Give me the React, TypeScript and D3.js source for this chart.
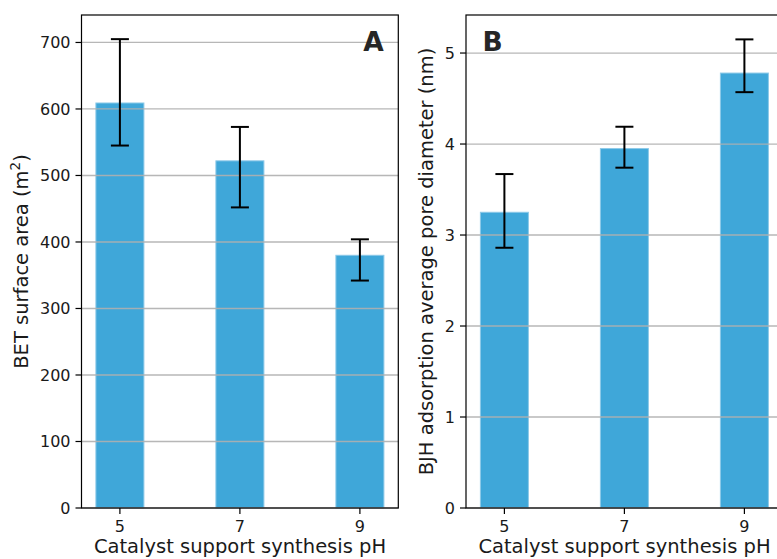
import * as d3 from "d3";

// synthesis pH categories
const phValues = [5, 7, 9];

// panel A: BET surface area (m²), asymmetric error bars
const betArea = [609, 522, 380];
const betUpper = [705, 573, 404];
const betLower = [545, 452, 342];
const betTicks = [0, 100, 200, 300, 400, 500, 600, 700];

// panel B: BJH adsorption average pore diameter (nm)
const poreDiam = [3.25, 3.95, 4.78];
const poreUpper = [3.67, 4.19, 5.15];
const poreLower = [2.86, 3.74, 4.57];
const poreTicks = [0, 1, 2, 3, 4, 5];

const W = 777;
const H = 559;
const FONT = "DejaVu Sans, sans-serif";
const BAR = "#3fa7d9";
const BAR_EDGE = "#8cc9e8";
const GRID = "#b0b0b0";
const TICK_FS = 16;
const LABEL_FS = 19.5;

type PanelProps = {
  values: number[];
  upper: number[];
  lower: number[];
  ticks: number[];
  yMax: number;
  left: number;
  letter: string;
  letterX: number;
  ylabel: React.ReactNode;
  ylabelX: number;
};

function Panel(p: PanelProps) {
  const top = 15;
  const bottom = 508;
  const x = d3.scaleLinear().domain([4.36, 9.64]).range([p.left, p.left + 5.28 * 60]);
  const y = d3.scaleLinear().domain([0, p.yMax]).range([bottom, top]);
  const bw = x(5.8) - x(5);
  const right = x(9.64);
  return (
    <g>
      {p.values.map((v, i) => (
        <rect key={"b" + i} x={x(phValues[i]) - bw / 2} y={y(v)} width={bw} height={y(0) - y(v)}
          fill={BAR} stroke={BAR_EDGE} strokeWidth={1} />
      ))}
      {p.ticks.map(t => (
        <line key={"g" + t} x1={p.left} x2={right} y1={y(t)} y2={y(t)} stroke={GRID} strokeWidth={1.3} opacity={0.9} />
      ))}
      {p.values.map((_, i) => {
        const cx = x(phValues[i]);
        return (
          <g key={"e" + i} stroke="#000" strokeWidth={2}>
            <line x1={cx} x2={cx} y1={y(p.upper[i])} y2={y(p.lower[i])} />
            <line x1={cx - 9} x2={cx + 9} y1={y(p.upper[i])} y2={y(p.upper[i])} />
            <line x1={cx - 9} x2={cx + 9} y1={y(p.lower[i])} y2={y(p.lower[i])} />
          </g>
        );
      })}
      <rect x={p.left} y={top} width={right - p.left} height={bottom - top} fill="none" stroke="#000" strokeWidth={1.2} />
      {p.ticks.map(t => (
        <g key={"yt" + t}>
          <line x1={p.left - 6} x2={p.left} y1={y(t)} y2={y(t)} stroke="#000" strokeWidth={1.2} />
          <text x={p.left - 11} y={y(t)} dy="0.36em" textAnchor="end" fontSize={TICK_FS} fontFamily={FONT} fill="#1a1a1a">
            {String(t)}
          </text>
        </g>
      ))}
      {phValues.map(v => (
        <g key={"xt" + v}>
          <line x1={x(v)} x2={x(v)} y1={bottom} y2={bottom + 6} stroke="#000" strokeWidth={1.2} />
          <text x={x(v)} y={532} textAnchor="middle" fontSize={TICK_FS} fontFamily={FONT} fill="#1a1a1a">{v}</text>
        </g>
      ))}
      <text x={p.left + 158.5} y={553} textAnchor="middle" fontSize={LABEL_FS}
        fontFamily={FONT} fill="#1a1a1a">Catalyst support synthesis pH</text>
      <text transform={`translate(${p.ylabelX},${(top + bottom) / 2}) rotate(-90)`} textAnchor="middle"
        fontSize={LABEL_FS} fontFamily={FONT} fill="#1a1a1a">{p.ylabel}</text>
      <text x={p.letterX} y={51} textAnchor="middle" fontSize={26.5} fontWeight="bold" fontFamily={FONT} fill="#262626">
        {p.letter}
      </text>
    </g>
  );
}

export default function App() {
  return (
    <svg width={W} height={H} style={{ position: "absolute", left: 0, top: 0, background: "#fff" }}>
      <rect width={W} height={H} fill="#fff" />
      <Panel values={betArea} upper={betUpper} lower={betLower} ticks={betTicks} yMax={741.3}
        left={81.5} letter="A" letterX={373.5} ylabelX={28}
        ylabel={<>BET surface area (m<tspan dy={-8} fontSize={13.5}>2</tspan><tspan dy={8}>)</tspan></>} />
      <Panel values={poreDiam} upper={poreUpper} lower={poreLower} ticks={poreTicks} yMax={5.418}
        left={466} letter="B" letterX={492.5} ylabelX={433}
        ylabel="BJH adsorption average pore diameter (nm)" />
    </svg>
  );
}
